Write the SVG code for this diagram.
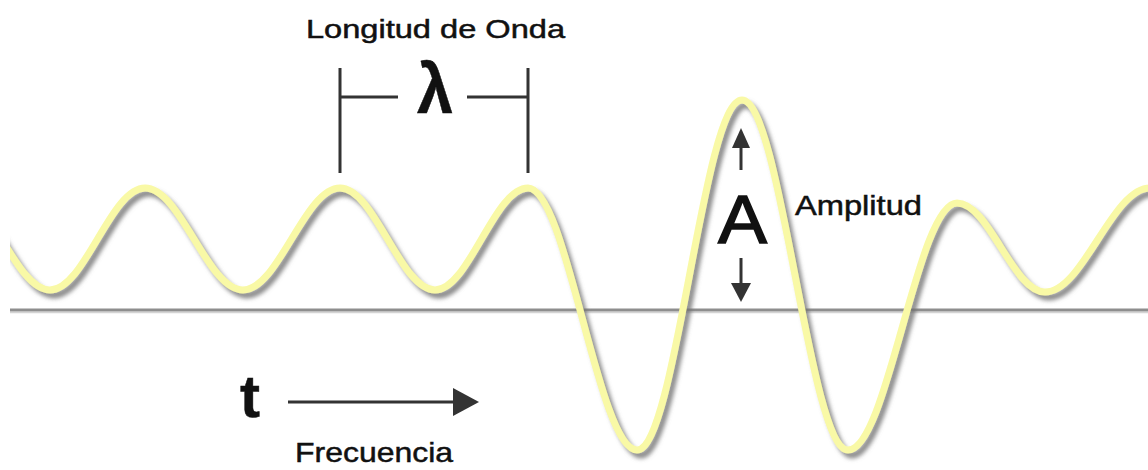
<svg xmlns="http://www.w3.org/2000/svg" width="1148" height="470" viewBox="0 0 1148 470">
  <style>
    .lbl { font-family: "Liberation Sans", Arial, sans-serif; fill: #111; stroke: #111; stroke-width: 0.5; }
    .dim { stroke: #333; stroke-width: 3; fill: none; }
    .head { fill: #333; }
  </style>
  <defs>
    <filter id="shadow" x="-5%" y="-10%" width="110%" height="130%">
      <feGaussianBlur in="SourceAlpha" stdDeviation="2.2" result="b"/>
      <feOffset in="b" dx="4" dy="5" result="o"/>
      <feFlood flood-color="#707070" flood-opacity="0.8"/>
      <feComposite in2="o" operator="in" result="s"/>
      <feMerge>
        <feMergeNode in="s"/>
        <feMergeNode in="SourceGraphic"/>
      </feMerge>
    </filter>
    <clipPath id="clip">
      <rect x="10" y="0" width="1138" height="470"/>
    </clipPath>
  </defs>
  <rect width="1148" height="470" fill="#fff"/>

  <g id="baseline">
    <line x1="10" y1="312.5" x2="1148" y2="312.5" stroke="#d4d4d4" stroke-width="1.5"/>
    <line x1="10" y1="310" x2="1148" y2="310" stroke="#8e8e8e" stroke-width="2.8"/>
  </g>

  <g id="wave" clip-path="url(#clip)">
    <path filter="url(#shadow)" fill="none" stroke="#f9f9a6" stroke-width="7" stroke-linecap="round"
      d="M -47,188 C -11.7,188 14.7,290 50,290
         C 84.6,290 110.4,188 145,188
         C 180.7,188 207.3,290 243,290
         C 278.3,290 304.7,188 340,188
         C 374.6,188 400.4,290 435,290
         C 468.9,290 494.1,188 528,188
         C 566.9,188 598,450 637,450
         C 676,450 703.1,100 742,100
         C 780.6,100 809.4,450 848,450
         C 887.7,450 917.3,203 957,203
         C 989,203 1013,292 1045,292
         C 1083.2,292 1111.8,188 1150,188"/>
  </g>

  <g id="wavelength">
    <text class="lbl" x="306" y="38" font-size="26" textLength="259" lengthAdjust="spacingAndGlyphs">Longitud de Onda</text>
    <path class="dim" d="M 340,68 V 173 M 340,97 H 398 M 467,97 H 528 M 528,68 V 173"/>
    <text class="lbl" x="417" y="113" font-size="70" font-weight="bold" textLength="36" lengthAdjust="spacingAndGlyphs">λ</text>
  </g>

  <g id="amplitude">
    <line class="dim" x1="741" y1="146" x2="741" y2="170"/>
    <polygon class="head" points="741,128 732,148 750,148"/>
    <line class="dim" x1="741" y1="258" x2="741" y2="284"/>
    <polygon class="head" points="741,302 731,283 751,283"/>
    <text class="lbl" x="718" y="243" font-size="69" style="stroke-width:1.5" textLength="49" lengthAdjust="spacingAndGlyphs">A</text>
    <text class="lbl" x="795" y="215" font-size="28" textLength="127" lengthAdjust="spacingAndGlyphs">Amplitud</text>
  </g>

  <g id="frequency">
    <text class="lbl" x="240" y="417" font-size="60" font-weight="bold">t</text>
    <line class="dim" x1="288" y1="402" x2="456" y2="402"/>
    <polygon class="head" points="453,388 479,402 453,416"/>
    <text class="lbl" x="295" y="462" font-size="28" textLength="158" lengthAdjust="spacingAndGlyphs">Frecuencia</text>
  </g>
</svg>
